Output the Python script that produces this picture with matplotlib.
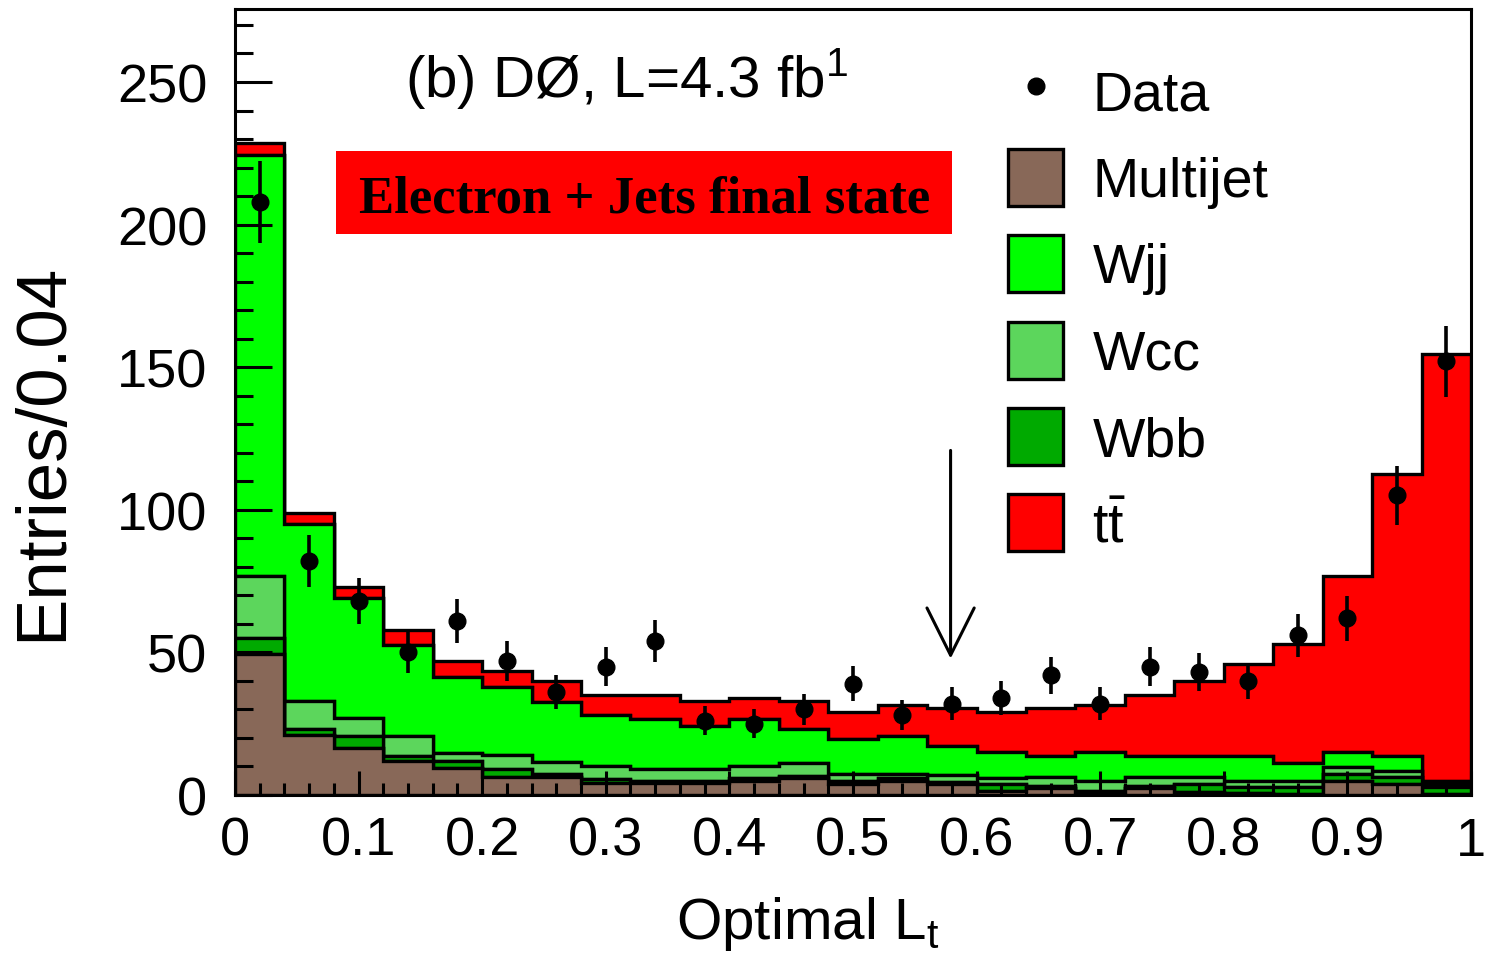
import numpy as np
import matplotlib
matplotlib.use("Agg")
import matplotlib.pyplot as plt
from matplotlib.patches import Patch, Rectangle
from matplotlib.lines import Line2D

plt.rcParams['font.family'] = ['Liberation Sans', 'DejaVu Sans']
plt.rcParams['mathtext.fontset'] = 'custom'
plt.rcParams['mathtext.rm'] = 'Liberation Sans'
plt.rcParams['mathtext.it'] = 'Liberation Sans:italic'
plt.rcParams['mathtext.bf'] = 'Liberation Sans:bold'

# 25 bins of width 0.04 in optimal L_t
bin_edges = np.linspace(0.0, 1.0, 26)

# stacked backgrounds (entries per bin), bottom to top
multijet = [49.4, 21.0, 16.6, 11.9, 9.5, 6.2, 6.2, 4.2, 4.2, 4.2, 5.0, 6.0, 3.9,
            5.0, 3.9, 1.5, 2.3, 1.0, 2.3, 1.0, 0.8, 0.5, 5.0, 3.9, 0.5]
wbb = [5.6, 2.0, 3.9, 1.8, 2.5, 2.9, 1.3, 1.3, 0.8, 0.8, 0.8, 0.8, 0.9,
       0.8, 0.7, 2.3, 0.7, 0.5, 0.7, 2.9, 2.0, 2.2, 2.4, 2.3, 2.2]
wcc = [21.8, 9.8, 6.5, 6.9, 2.8, 4.8, 3.9, 4.8, 4.1, 4.1, 4.5, 4.4, 2.6,
       1.6, 2.5, 2.2, 3.2, 3.5, 3.2, 2.3, 2.2, 2.3, 2.3, 2.3, 1.3]
wjj = [147.7, 62.2, 42.0, 31.9, 26.5, 23.9, 21.1, 17.6, 17.6, 15.2, 16.4, 12.0, 12.3,
       13.4, 10.2, 9.0, 7.6, 10.0, 7.6, 7.6, 8.6, 6.2, 5.3, 5.1, 1.0]
ttbar = [4.0, 4.0, 4.0, 5.2, 5.7, 5.8, 7.6, 7.0, 8.2, 8.8, 7.2, 9.9, 9.3,
         10.6, 13.1, 14.0, 16.6, 16.6, 21.1, 26.3, 32.4, 41.8, 61.8, 99.1, 149.5]

# data points with their error bars
data = [208, 82, 68, 50, 61, 47, 36, 45, 54, 26, 25, 30, 39,
        28, 32, 34, 42, 32, 45, 43, 40, 56, 62, 105, 152]
data_err = [14.4, 9.1, 8.2, 7.1, 7.8, 6.9, 6.0, 6.7, 7.3, 5.1, 5.0, 5.5, 6.2,
            5.3, 5.7, 5.8, 6.5, 5.7, 6.7, 6.6, 6.3, 7.5, 7.9, 10.2, 12.3]

colors = ["#886858", "#00aa00", "#5cd65c", "#00ff00", "#ff0000"]

xticks = [0.0, 0.1, 0.2, 0.3, 0.4, 0.5, 0.6, 0.7, 0.8, 0.9, 1.0]
xtick_labels = ["0", "0.1", "0.2", "0.3", "0.4", "0.5", "0.6", "0.7", "0.8", "0.9", "1"]
yticks = [0, 50, 100, 150, 200, 250]

cut_value = 0.579

fig = plt.figure(figsize=(14.87, 9.79), dpi=100)
ax = fig.add_axes([0.158, 0.187, 0.8312, 0.8028])

centers = 0.5 * (bin_edges[:-1] + bin_edges[1:])
ax.hist([centers] * 5, bins=bin_edges,
        weights=[multijet, wbb, wcc, wjj, ttbar],
        stacked=True, histtype="stepfilled", color=colors,
        edgecolor="black", linewidth=2.4)

ax.errorbar(centers, data, yerr=data_err, fmt="o", color="black",
            markersize=12, elinewidth=2.6, capsize=0, zorder=5)

# arrow marking the cut
ax.annotate("", xy=(cut_value, 47.8), xytext=(cut_value, 120.8),
            arrowprops=dict(arrowstyle="->, head_length=3.4, head_width=1.7",
                            mutation_scale=10, lw=2.2, color="black",
                            shrinkA=0, shrinkB=0))

# red label box
ax.add_patch(Rectangle((0.0817, 0.7137), 0.4984, 0.1056, transform=ax.transAxes,
                       facecolor="#ff0000", edgecolor="none", zorder=6))
ax.text(0.3313, 0.7417, "Electron + Jets final state", transform=ax.transAxes,
        ha="center", va="baseline", fontsize=38, fontweight="bold",
        family="Liberation Serif", zorder=7)

ax.text(0.1375, 0.889, r"(b) DØ, L=4.3 fb$^{\mathrm{1}}$", transform=ax.transAxes,
        ha="left", va="baseline", fontsize=42)

# legend
leg_labels = ["Data", "Multijet", "Wjj", "Wcc", "Wbb", r"t$\bar{\mathrm{t}}$"]
leg_colors = ["#886858", "#00ff00", "#5cd65c", "#00aa00", "#ff0000"]
handles = [Line2D([], [], marker="o", color="black", ls="none", markersize=12)]
for col in leg_colors:
    handles.append(Patch(facecolor=col, edgecolor="black", linewidth=2.4))
ax.legend(handles, leg_labels, loc="upper left", bbox_to_anchor=(0.6254, 0.9322),
          frameon=False, fontsize=40, handlelength=1.0, handleheight=1.2,
          handletextpad=0.52, labelspacing=0.49, borderpad=0, borderaxespad=0)

ax.set_xlim(0, 1)
ax.set_ylim(0, 275.6)
ax.set_xticks(xticks)
ax.set_xticklabels(xtick_labels)
ax.set_xticks(np.arange(0, 1.001, 0.02), minor=True)
ax.set_yticks(yticks)
ax.set_yticks(np.arange(0, 271, 10), minor=True)
ax.tick_params(axis="both", which="both", direction="in", width=2.2, labelsize=39)
ax.tick_params(axis="x", which="major", length=17, pad=15)
ax.tick_params(axis="x", which="minor", length=8.6)
ax.tick_params(axis="y", which="major", length=26.7, pad=20)
ax.tick_params(axis="y", which="minor", length=13.3)
for sp in ax.spines.values():
    sp.set_linewidth(2.2)
    sp.set_zorder(10)

ax.set_xlabel(r"Optimal L$_{\mathrm{t}}$", fontsize=42)
ax.xaxis.set_label_coords(0.463, -0.126)
ax.xaxis.label.set_va("top")
ax.set_ylabel("Entries/0.04", fontsize=51)
ax.yaxis.set_label_coords(-0.1285, 0.4377)

fig.savefig("out.png", dpi=100)
